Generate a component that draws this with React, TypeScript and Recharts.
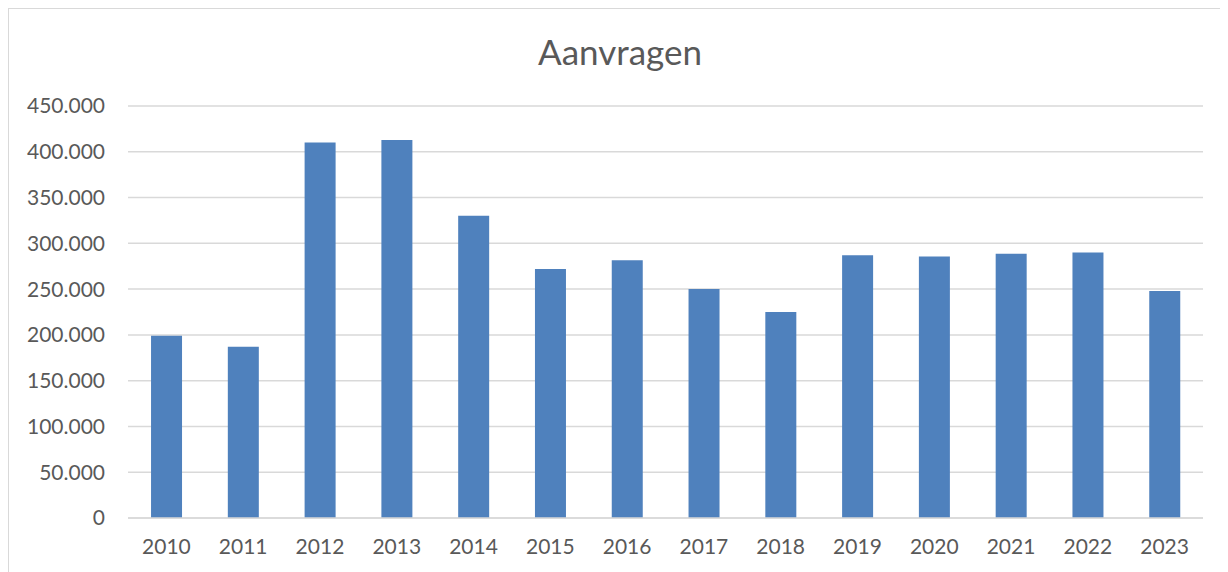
import React from "react";
import { BarChart, Bar, XAxis, YAxis, CartesianGrid } from "recharts";

const years = ["2010", "2011", "2012", "2013", "2014", "2015", "2016", "2017", "2018", "2019", "2020", "2021", "2022", "2023"];
const aanvragen = [199000, 187000, 410000, 413000, 330000, 272000, 281500, 250000, 225000, 287000, 285500, 288500, 290000, 248000];
const yTicks = [0, 50000, 100000, 150000, 200000, 250000, 300000, 350000, 400000, 450000];

const data = years.map((y, i) => ({ year: y, value: aanvragen[i] }));

const fmt = (v: number) => String(v).replace(/\B(?=(\d{3})+(?!\d))/g, ".");

const FONT = "Lato, 'Open Sans', sans-serif";

export default function App() {
  return (
    <div style={{ position: "relative", width: 1220, height: 564, borderLeft: "1px solid #d9d9d9", borderTop: "1px solid #d9d9d9", boxSizing: "border-box", background: "#fff" }}>
      <style>{`html,body{overflow:hidden}`}</style>
      <div style={{ position: "absolute", left: 0, top: 21, width: 1222, textAlign: "center", fontFamily: FONT, fontSize: 35, color: "#595959" }}>
        Aanvragen
      </div>
      <BarChart width={1220} height={564} data={data} margin={{ top: 97, right: 26, left: 0, bottom: 0 }} barCategoryGap="30%">
        <CartesianGrid vertical={false} stroke="#d9d9d9" strokeWidth={1.5} />
        <XAxis dataKey="year" height={55} axisLine={{ stroke: "#d9d9d9", strokeWidth: 1.5 }} tickLine={false} tickSize={0} tickMargin={21}
          tick={{ fill: "#595959", fontSize: 21, fontFamily: FONT }} interval={0} />
        <YAxis width={119} domain={[0, 450000]} ticks={yTicks} tickFormatter={fmt} axisLine={false} tickLine={false} tickSize={0} tickMargin={23}
          tick={{ fill: "#595959", fontSize: 21, fontFamily: FONT }} />
        <Bar dataKey="value" fill="#4F81BD" isAnimationActive={false} />
      </BarChart>
    </div>
  );
}
